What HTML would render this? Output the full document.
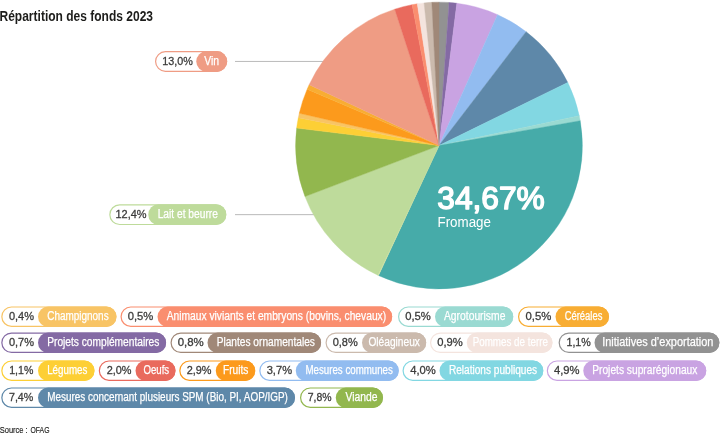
<!DOCTYPE html>
<html lang="fr"><head><meta charset="utf-8"><title>Répartition des fonds 2023</title>
<style>html,body{margin:0;padding:0;background:#fff;}body{width:720px;height:437px;overflow:hidden;font-family:"Liberation Sans", sans-serif;}svg,svg text{font-family:"Liberation Sans", sans-serif;}</style>
</head><body>
<svg width="720" height="437" viewBox="0 0 720 437" style="display:block;will-change:transform">
<rect width="720" height="437" fill="#fff"/>
<line x1="235" y1="61.45" x2="330" y2="61.45" stroke="#bababa" stroke-width="1"/>
<line x1="235" y1="214.65" x2="320" y2="214.65" stroke="#bababa" stroke-width="1"/>
<path d="M439.00,145.55L439.00,2.15A143.4,143.4 0 0 1 449.08,2.50Z" fill="#929292" stroke="#929292" stroke-width="0.4"/>
<path d="M439.00,145.55L449.08,2.50A143.4,143.4 0 0 1 456.87,3.27Z" fill="#846aa4" stroke="#846aa4" stroke-width="0.4"/>
<path d="M439.00,145.55L456.87,3.27A143.4,143.4 0 0 1 497.56,14.65Z" fill="#c9a3e2" stroke="#c9a3e2" stroke-width="0.4"/>
<path d="M439.00,145.55L497.56,14.65A143.4,143.4 0 0 1 526.13,31.65Z" fill="#92bcf0" stroke="#92bcf0" stroke-width="0.4"/>
<path d="M439.00,145.55L526.13,31.65A143.4,143.4 0 0 1 567.77,82.44Z" fill="#5e88a9" stroke="#5e88a9" stroke-width="0.4"/>
<path d="M439.00,145.55L567.77,82.44A143.4,143.4 0 0 1 579.26,115.72Z" fill="#82d7e2" stroke="#82d7e2" stroke-width="0.4"/>
<path d="M439.00,145.55L579.26,115.72A143.4,143.4 0 0 1 580.24,120.76Z" fill="#9adad2" stroke="#9adad2" stroke-width="0.4"/>
<path d="M439.00,145.55L580.24,120.76A143.4,143.4 0 0 1 378.51,275.57Z" fill="#46aba9" stroke="#46aba9" stroke-width="0.4"/>
<path d="M439.00,145.55L378.51,275.57A143.4,143.4 0 0 1 377.94,275.30Z" fill="#dde6a4" stroke="#dde6a4" stroke-width="0.4"/>
<path d="M439.00,145.55L377.94,275.30A143.4,143.4 0 0 1 304.98,196.56Z" fill="#bedb9b" stroke="#bedb9b" stroke-width="0.4"/>
<path d="M439.00,145.55L304.98,196.56A143.4,143.4 0 0 1 296.67,128.06Z" fill="#92b74e" stroke="#92b74e" stroke-width="0.4"/>
<path d="M439.00,145.55L296.67,128.06A143.4,143.4 0 0 1 298.32,117.75Z" fill="#fdcf35" stroke="#fdcf35" stroke-width="0.4"/>
<path d="M439.00,145.55L298.32,117.75A143.4,143.4 0 0 1 299.28,113.26Z" fill="#f8c465" stroke="#f8c465" stroke-width="0.4"/>
<path d="M439.00,145.55L299.28,113.26A143.4,143.4 0 0 1 307.16,89.15Z" fill="#fc9a1c" stroke="#fc9a1c" stroke-width="0.4"/>
<path d="M439.00,145.55L307.16,89.15A143.4,143.4 0 0 1 309.14,84.72Z" fill="#f8ad33" stroke="#f8ad33" stroke-width="0.4"/>
<path d="M439.00,145.55L309.14,84.72A143.4,143.4 0 0 1 394.72,9.16Z" fill="#ef9c84" stroke="#ef9c84" stroke-width="0.4"/>
<path d="M439.00,145.55L394.72,9.16A143.4,143.4 0 0 1 412.15,4.69Z" fill="#e96a5d" stroke="#e96a5d" stroke-width="0.4"/>
<path d="M439.00,145.55L412.15,4.69A143.4,143.4 0 0 1 417.29,3.80Z" fill="#fa8e6f" stroke="#fa8e6f" stroke-width="0.4"/>
<path d="M439.00,145.55L417.29,3.80A143.4,143.4 0 0 1 424.08,2.93Z" fill="#f4e4de" stroke="#f4e4de" stroke-width="0.4"/>
<path d="M439.00,145.55L424.08,2.93A143.4,143.4 0 0 1 431.80,2.33Z" fill="#cbbaad" stroke="#cbbaad" stroke-width="0.4"/>
<path d="M439.00,145.55L431.80,2.33A143.4,143.4 0 0 1 439.00,2.15Z" fill="#a08878" stroke="#a08878" stroke-width="0.4"/>
<text x="-0.5" y="20.6" font-size="14.2" font-weight="700" fill="#1d1d1b" textLength="153.5" lengthAdjust="spacingAndGlyphs">Répartition des fonds 2023</text>
<text x="437.3" y="208.9" font-size="31.2" fill="#fff" stroke="#fff" stroke-width="1.4" stroke-linejoin="round" textLength="107.5" lengthAdjust="spacingAndGlyphs">34,67%</text>
<text x="437.5" y="227.3" font-size="15.2" fill="#fff" textLength="53.5" lengthAdjust="spacingAndGlyphs">Fromage</text>
<text x="-0.3" y="433" font-size="9.5" fill="#1d1d1b" stroke="#1d1d1b" stroke-width="0.15" textLength="28" lengthAdjust="spacingAndGlyphs">Source :</text>
<text x="30.5" y="433" font-size="9.5" fill="#1d1d1b" stroke="#1d1d1b" stroke-width="0.15" textLength="19" lengthAdjust="spacingAndGlyphs">OFAG</text>
<rect x="155.60" y="51.70" width="71.00" height="19.60" rx="9.80" fill="#fff" stroke="#ef9c84" stroke-width="1.2"/>
<rect x="196.25" y="51.10" width="30.95" height="20.80" rx="10.40" fill="#ef9c84"/>
<text x="162.20" y="65.20" font-size="11.7" fill="#3c3c3b" stroke="#3c3c3b" stroke-width="0.3" textLength="30.60" lengthAdjust="spacingAndGlyphs">13,0%</text>
<text x="204.20" y="65.20" font-size="12" fill="#fff" stroke="#fff" stroke-width="0.25" textLength="14.95" lengthAdjust="spacingAndGlyphs">Vin</text>
<rect x="109.85" y="204.90" width="115.85" height="19.60" rx="9.80" fill="#fff" stroke="#bedb9b" stroke-width="1.2"/>
<rect x="148.25" y="204.30" width="78.05" height="20.80" rx="10.40" fill="#bedb9b"/>
<text x="115.45" y="218.40" font-size="11.7" fill="#3c3c3b" stroke="#3c3c3b" stroke-width="0.3" textLength="31.10" lengthAdjust="spacingAndGlyphs">12,4%</text>
<text x="157.70" y="218.40" font-size="12" fill="#fff" stroke="#fff" stroke-width="0.25" textLength="60.20" lengthAdjust="spacingAndGlyphs">Lait et beurre</text>
<rect x="1.85" y="307.00" width="114.05" height="19.30" rx="9.65" fill="#fff" stroke="#f8c465" stroke-width="1.2"/>
<rect x="38.00" y="306.40" width="78.50" height="20.50" rx="10.25" fill="#f8c465"/>
<text x="8.95" y="320.35" font-size="11.7" fill="#3c3c3b" stroke="#3c3c3b" stroke-width="0.3" textLength="25.10" lengthAdjust="spacingAndGlyphs">0,4%</text>
<text x="47.20" y="320.35" font-size="12" fill="#fff" stroke="#fff" stroke-width="0.25" textLength="61.45" lengthAdjust="spacingAndGlyphs">Champignons</text>
<rect x="121.10" y="307.00" width="270.50" height="19.30" rx="9.65" fill="#fff" stroke="#fa8e6f" stroke-width="1.2"/>
<rect x="157.50" y="306.40" width="234.70" height="20.50" rx="10.25" fill="#fa8e6f"/>
<text x="127.70" y="320.35" font-size="11.7" fill="#3c3c3b" stroke="#3c3c3b" stroke-width="0.3" textLength="25.60" lengthAdjust="spacingAndGlyphs">0,5%</text>
<text x="166.70" y="320.35" font-size="12" fill="#fff" stroke="#fff" stroke-width="0.25" textLength="219.45" lengthAdjust="spacingAndGlyphs">Animaux viviants et embryons (bovins, chevaux)</text>
<rect x="398.60" y="307.00" width="114.05" height="19.30" rx="9.65" fill="#fff" stroke="#9adad2" stroke-width="1.2"/>
<rect x="435.00" y="306.40" width="78.25" height="20.50" rx="10.25" fill="#9adad2"/>
<text x="405.20" y="320.35" font-size="11.7" fill="#3c3c3b" stroke="#3c3c3b" stroke-width="0.3" textLength="25.60" lengthAdjust="spacingAndGlyphs">0,5%</text>
<text x="443.95" y="320.35" font-size="12" fill="#fff" stroke="#fff" stroke-width="0.25" textLength="61.45" lengthAdjust="spacingAndGlyphs">Agrotourisme</text>
<rect x="518.60" y="307.00" width="89.80" height="19.30" rx="9.65" fill="#fff" stroke="#f8ad33" stroke-width="1.2"/>
<rect x="555.50" y="306.40" width="53.50" height="20.50" rx="10.25" fill="#f8ad33"/>
<text x="525.45" y="320.35" font-size="11.7" fill="#3c3c3b" stroke="#3c3c3b" stroke-width="0.3" textLength="25.85" lengthAdjust="spacingAndGlyphs">0,5%</text>
<text x="564.70" y="320.35" font-size="12" fill="#fff" stroke="#fff" stroke-width="0.25" textLength="37.70" lengthAdjust="spacingAndGlyphs">Céréales</text>
<rect x="1.85" y="333.10" width="163.65" height="19.30" rx="9.65" fill="#fff" stroke="#846aa4" stroke-width="1.2"/>
<rect x="38.00" y="332.50" width="128.10" height="20.50" rx="10.25" fill="#846aa4"/>
<text x="8.95" y="346.45" font-size="11.7" fill="#3c3c3b" stroke="#3c3c3b" stroke-width="0.3" textLength="25.10" lengthAdjust="spacingAndGlyphs">0,7%</text>
<text x="47.20" y="346.45" font-size="12" fill="#fff" stroke="#fff" stroke-width="0.25" textLength="112.20" lengthAdjust="spacingAndGlyphs">Projets complémentaires</text>
<rect x="171.10" y="333.10" width="149.40" height="19.30" rx="9.65" fill="#fff" stroke="#a08878" stroke-width="1.2"/>
<rect x="207.50" y="332.50" width="113.60" height="20.50" rx="10.25" fill="#a08878"/>
<text x="177.70" y="346.45" font-size="11.7" fill="#3c3c3b" stroke="#3c3c3b" stroke-width="0.3" textLength="26.10" lengthAdjust="spacingAndGlyphs">0,8%</text>
<text x="216.70" y="346.45" font-size="12" fill="#fff" stroke="#fff" stroke-width="0.25" textLength="98.20" lengthAdjust="spacingAndGlyphs">Plantes ornamentales</text>
<rect x="326.10" y="333.10" width="99.50" height="19.30" rx="9.65" fill="#fff" stroke="#cbbaad" stroke-width="1.2"/>
<rect x="362.00" y="332.50" width="64.20" height="20.50" rx="10.25" fill="#cbbaad"/>
<text x="332.70" y="346.45" font-size="11.7" fill="#3c3c3b" stroke="#3c3c3b" stroke-width="0.3" textLength="25.10" lengthAdjust="spacingAndGlyphs">0,8%</text>
<text x="368.40" y="346.45" font-size="12" fill="#fff" stroke="#fff" stroke-width="0.25" textLength="51.50" lengthAdjust="spacingAndGlyphs">Oléagineux</text>
<rect x="430.60" y="333.10" width="121.30" height="19.30" rx="9.65" fill="#fff" stroke="#f4e4de" stroke-width="1.2"/>
<rect x="466.75" y="332.50" width="85.75" height="20.50" rx="10.25" fill="#f4e4de"/>
<text x="437.20" y="346.45" font-size="11.7" fill="#3c3c3b" stroke="#3c3c3b" stroke-width="0.3" textLength="25.60" lengthAdjust="spacingAndGlyphs">0,9%</text>
<text x="472.70" y="346.45" font-size="12" fill="#fff" stroke="#fff" stroke-width="0.25" textLength="75.20" lengthAdjust="spacingAndGlyphs">Pommes de terre</text>
<rect x="559.20" y="333.10" width="159.60" height="19.30" rx="9.65" fill="#fff" stroke="#929292" stroke-width="1.2"/>
<rect x="594.50" y="332.50" width="124.90" height="20.50" rx="10.25" fill="#929292"/>
<text x="566.45" y="346.45" font-size="11.7" fill="#3c3c3b" stroke="#3c3c3b" stroke-width="0.3" textLength="24.35" lengthAdjust="spacingAndGlyphs">1,1%</text>
<text x="602.20" y="346.45" font-size="12" fill="#fff" stroke="#fff" stroke-width="0.25" textLength="111.20" lengthAdjust="spacingAndGlyphs">Initiatives d’exportation</text>
<rect x="1.85" y="361.00" width="92.05" height="19.30" rx="9.65" fill="#fff" stroke="#fdcf35" stroke-width="1.2"/>
<rect x="38.00" y="360.40" width="56.50" height="20.50" rx="10.25" fill="#fdcf35"/>
<text x="9.20" y="374.35" font-size="11.7" fill="#3c3c3b" stroke="#3c3c3b" stroke-width="0.3" textLength="24.10" lengthAdjust="spacingAndGlyphs">1,1%</text>
<text x="47.20" y="374.35" font-size="12" fill="#fff" stroke="#fff" stroke-width="0.25" textLength="40.20" lengthAdjust="spacingAndGlyphs">Légumes</text>
<rect x="99.35" y="361.00" width="75.55" height="19.30" rx="9.65" fill="#fff" stroke="#e96a5d" stroke-width="1.2"/>
<rect x="135.50" y="360.40" width="40.00" height="20.50" rx="10.25" fill="#e96a5d"/>
<text x="106.70" y="374.35" font-size="11.7" fill="#3c3c3b" stroke="#3c3c3b" stroke-width="0.3" textLength="24.85" lengthAdjust="spacingAndGlyphs">2,0%</text>
<text x="143.45" y="374.35" font-size="12" fill="#fff" stroke="#fff" stroke-width="0.25" textLength="25.70" lengthAdjust="spacingAndGlyphs">Oeufs</text>
<rect x="179.85" y="361.00" width="74.75" height="19.30" rx="9.65" fill="#fff" stroke="#fc9a1c" stroke-width="1.2"/>
<rect x="215.75" y="360.40" width="39.45" height="20.50" rx="10.25" fill="#fc9a1c"/>
<text x="186.70" y="374.35" font-size="11.7" fill="#3c3c3b" stroke="#3c3c3b" stroke-width="0.3" textLength="24.85" lengthAdjust="spacingAndGlyphs">2,9%</text>
<text x="222.95" y="374.35" font-size="12" fill="#fff" stroke="#fff" stroke-width="0.25" textLength="25.45" lengthAdjust="spacingAndGlyphs">Fruits</text>
<rect x="259.85" y="361.00" width="138.30" height="19.30" rx="9.65" fill="#fff" stroke="#92bcf0" stroke-width="1.2"/>
<rect x="295.75" y="360.40" width="103.00" height="20.50" rx="10.25" fill="#92bcf0"/>
<text x="266.70" y="374.35" font-size="11.7" fill="#3c3c3b" stroke="#3c3c3b" stroke-width="0.3" textLength="25.35" lengthAdjust="spacingAndGlyphs">3,7%</text>
<text x="305.45" y="374.35" font-size="12" fill="#fff" stroke="#fff" stroke-width="0.25" textLength="87.45" lengthAdjust="spacingAndGlyphs">Mesures communes</text>
<rect x="403.10" y="361.00" width="139.60" height="19.30" rx="9.65" fill="#fff" stroke="#82d7e2" stroke-width="1.2"/>
<rect x="439.50" y="360.40" width="103.80" height="20.50" rx="10.25" fill="#82d7e2"/>
<text x="410.20" y="374.35" font-size="11.7" fill="#3c3c3b" stroke="#3c3c3b" stroke-width="0.3" textLength="25.60" lengthAdjust="spacingAndGlyphs">4,0%</text>
<text x="448.95" y="374.35" font-size="12" fill="#fff" stroke="#fff" stroke-width="0.25" textLength="88.15" lengthAdjust="spacingAndGlyphs">Relations publiques</text>
<rect x="547.35" y="361.00" width="158.30" height="19.30" rx="9.65" fill="#fff" stroke="#c9a3e2" stroke-width="1.2"/>
<rect x="583.25" y="360.40" width="123.00" height="20.50" rx="10.25" fill="#c9a3e2"/>
<text x="553.95" y="374.35" font-size="11.7" fill="#3c3c3b" stroke="#3c3c3b" stroke-width="0.3" textLength="25.60" lengthAdjust="spacingAndGlyphs">4,9%</text>
<text x="592.20" y="374.35" font-size="12" fill="#fff" stroke="#fff" stroke-width="0.25" textLength="105.20" lengthAdjust="spacingAndGlyphs">Projets suprarégionaux</text>
<rect x="1.85" y="388.00" width="292.55" height="19.30" rx="9.65" fill="#fff" stroke="#5e88a9" stroke-width="1.2"/>
<rect x="38.00" y="387.40" width="257.00" height="20.50" rx="10.25" fill="#5e88a9"/>
<text x="8.95" y="401.35" font-size="11.7" fill="#3c3c3b" stroke="#3c3c3b" stroke-width="0.3" textLength="24.35" lengthAdjust="spacingAndGlyphs">7,4%</text>
<text x="47.20" y="401.35" font-size="12" fill="#fff" stroke="#fff" stroke-width="0.25" textLength="240.70" lengthAdjust="spacingAndGlyphs">Mesures concernant plusieurs SPM (Bio, PI, AOP/IGP)</text>
<rect x="300.60" y="388.00" width="81.80" height="19.30" rx="9.65" fill="#fff" stroke="#92b74e" stroke-width="1.2"/>
<rect x="335.75" y="387.40" width="47.25" height="20.50" rx="10.25" fill="#92b74e"/>
<text x="307.70" y="401.35" font-size="11.7" fill="#3c3c3b" stroke="#3c3c3b" stroke-width="0.3" textLength="23.85" lengthAdjust="spacingAndGlyphs">7,8%</text>
<text x="345.45" y="401.35" font-size="12" fill="#fff" stroke="#fff" stroke-width="0.25" textLength="31.95" lengthAdjust="spacingAndGlyphs">Viande</text>
</svg>
</body></html>
